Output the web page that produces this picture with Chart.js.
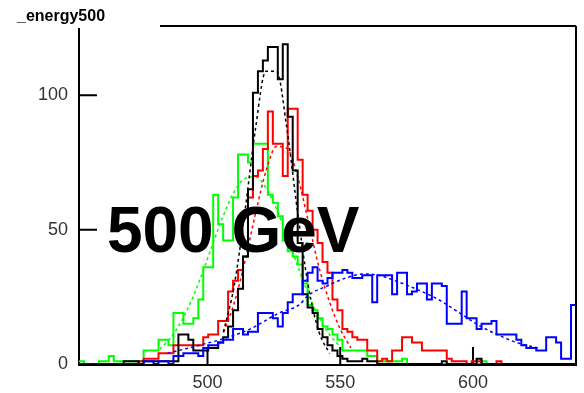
<!DOCTYPE html>
<html><head><meta charset="utf-8">
<script src="https://cdn.jsdelivr.net/npm/chart.js@4/dist/chart.umd.min.js"></script>
<style>html,body{margin:0;padding:0;background:#fff;overflow:hidden}#wrap{width:584px;height:393px;position:relative}</style>
</head><body><div id="wrap"><canvas id="c" width="584" height="393"></canvas></div>
<script>
// ---- axis ranges / ticks ----
const X_MIN = 451.6, X_MAX = 638.8, Y_MAX = 125.8;
const N_BINS = 100;
const xTicks = [500, 550, 600];
const yTicks = [0, 50, 100];
const titleText = "_energy500";
const labelText = "500 GeV";

// ---- histogram bin contents ----
const blackCounts = [
  0,0,0,0,0,0,0,0,0,1, 1,1,0,1,1,1,1,1,1,1,
  11,11,9,5,5,5,6,6,8,10, 14,20,28,40,65,101,109,113,118,118,
  106,119,92,72,45,26,21,19,13,10, 7,5,3,2,1,1,1,2,1,1,
  0,0,0,0,0,0,0,0,0,0, 0,0,0,1,0,0,0,0,0,0,
  2,0,0,0,0,0,0,0,0,0, 0,0,0,0,0,0,0,0,0,0
];
const redCounts = [
  0,0,0,0,0,0,0,0,0,0, 0,0,1,2,2,2,4,4,4,7,
  7,7,7,7,7,10,11,11,16,16, 27,31,35,40,62,70,72,80,94,82,
  82,70,95,95,76,63,57,50,45,38, 34,24,20,13,12,10,9,9,5,5,
  1,2,1,5,5,10,10,8,8,5, 5,5,5,5,2,1,1,1,0,1,
  1,0,0,0,1,0,0,0,0,0, 0,0,0,0,0,0,0,0,0,0
];
const greenCounts = [
  1,0,0,0,1,1,3,1,1,1, 1,1,1,5,5,5,9,9,7,19,
  19,15,15,17,24,36,36,63,52,46, 46,62,78,78,75,82,82,82,63,60,
  55,46,42,40,37,30,22,20,17,14, 13,11,9,5,5,5,5,5,3,3,
  1,1,1,1,1,2,0,0,0,0, 0,0,0,0,0,0,0,0,0,0,
  0,1,0,0,0,0,0,0,0,0, 0,0,0,0,0,0,0,0,0,0
];
const blueCounts = [
  0,0,0,0,0,0,0,0,0,0, 0,0,0,1,1,0,1,1,0,3,
  3,4,4,4,3,6,7,7,8,9, 9,13,13,11,12,12,19,19,19,17,
  14,19,23,26,26,31,34,36,31,30, 32,34,34,35,34,32,32,33,33,23,
  33,33,33,26,34,34,26,27,30,30, 24,30,30,29,15,15,15,27,17,17,
  13,15,15,16,11,11,11,11,9,7, 6,6,5,5,10,10,8,2,2,22
];

// ---- fitted curves ----
const greenFitX = [482,486,490,494,498,502,506,510,514,518,522,526,530,534,538,542,546,550];
const greenFitY = [5.5,9.6,15.6,23.7,33.7,44.7,55.3,64,69,69.7,65.6,57.7,47.4,36.4,26,17.4,10.9,6.4];
const redFitX = [506,510,514,518,522,526,530,534,538,542,546,550,554];
const redFitY = [11.7,22.5,37.8,55.6,71.7,81,80.2,69.6,53,36,23,13,6];
const blackFitX = [506,510,514,518,522,526,530,534,538,542,546];
const blackFitY = [11.9,28.8,56,87,109,109,87,56,28.8,11.9,3.9];
const blueFitX = [485,497,508,516,527,534.5,538,545,552,559,564.5,572,579.5,587,594.5,602,609.5,617,624.5];
const blueFitY = [4,7,10,13,19,22,25.6,29,32,33.5,33,30.5,27.5,24,19.3,14.5,10.8,7.8,6];

const binEdges = Array.from({length: N_BINS + 1}, (_, i) => X_MIN + i * (X_MAX - X_MIN) / N_BINS);
function histPoints(counts) {
  const pts = counts.map((v, i) => ({x: binEdges[i], y: v}));
  pts.push({x: binEdges[N_BINS], y: counts[N_BINS - 1]});
  return pts;
}
function curvePoints(xs, ys) { return xs.map((x, i) => ({x: x, y: ys[i]})); }

function hist(counts, color) {
  return {data: histPoints(counts), borderColor: color, borderWidth: 2, stepped: 'before',
          pointRadius: 0, fill: false, tension: 0};
}
function fit(xs, ys, color) {
  return {data: curvePoints(xs, ys), borderColor: color, borderWidth: 1.5, borderDash: [3, 3],
          pointRadius: 0, fill: false, tension: 0.4, cubicInterpolationMode: 'monotone'};
}

const FONT = "'Liberation Sans', Arial, Helvetica, sans-serif";

const framePlugin = {
  id: 'frame',
  beforeDatasetsDraw(chart) {
    const {ctx, chartArea: a, scales} = chart;
    ctx.save();
    ctx.strokeStyle = '#000';
    ctx.lineWidth = 2;
    ctx.beginPath();
    ctx.moveTo(a.left, a.top); ctx.lineTo(a.right, a.top);
    ctx.moveTo(a.right, a.top); ctx.lineTo(a.right, a.bottom + 1);
    ctx.moveTo(a.left - 1, a.bottom + 1); ctx.lineTo(a.right + 1, a.bottom + 1);
    ctx.moveTo(a.left, a.top); ctx.lineTo(a.left, a.bottom + 1);
    yTicks.forEach(v => { const p = scales.y.getPixelForValue(v); ctx.moveTo(a.left, p); ctx.lineTo(a.left + 18, p); });
    xTicks.forEach(v => { const p = scales.x.getPixelForValue(v); ctx.moveTo(p, a.bottom); ctx.lineTo(p, a.bottom - 17); });
    ctx.stroke();
    ctx.restore();
  },
  afterDraw(chart) {
    const {ctx, scales} = chart;
    ctx.save();
    // title box
    ctx.fillStyle = '#fff';
    ctx.fillRect(0, 0, 160, 28);
    ctx.fillStyle = '#000';
    ctx.font = 'bold 16px ' + FONT;
    ctx.textBaseline = 'alphabetic';
    ctx.fillText(titleText, 17, 21);
    // big label
    ctx.font = 'bold 64px ' + FONT;
    ctx.fillText(labelText, scales.x.getPixelForValue(462.1), scales.y.getPixelForValue(41.7));
    ctx.restore();
  }
};

new Chart(document.getElementById('c'), {
  type: 'line',
  data: {
    datasets: [
      hist(blueCounts, '#0000ff'),
      fit(blueFitX, blueFitY, '#0000ff'),
      hist(blackCounts, '#000000'),
      fit(blackFitX, blackFitY, '#000000'),
      hist(redCounts, '#ff0000'),
      fit(redFitX, redFitY, '#ff0000'),
      hist(greenCounts, '#00ff00'),
      fit(greenFitX, greenFitY, '#00ff00')
    ]
  },
  options: {
    responsive: false,
    animation: false,
    devicePixelRatio: 1,
    layout: {padding: {top: 26, right: 8, left: 0, bottom: 0}},
    plugins: {legend: {display: false}, tooltip: {enabled: false}, title: {display: false}},
    scales: {
      x: {
        type: 'linear', min: X_MIN, max: X_MAX,
        grid: {display: false, drawTicks: false}, border: {display: false},
        ticks: {font: {family: FONT, size: 18}, color: '#333', padding: 8, autoSkip: false, maxRotation: 0,
                callback: v => String(v)},
        afterBuildTicks: s => { s.ticks = xTicks.map(v => ({value: v})); },
        afterFit: s => { s.height = 29; }
      },
      y: {
        type: 'linear', min: 0, max: Y_MAX,
        grid: {display: false, drawTicks: false}, border: {display: false},
        ticks: {font: {family: FONT, size: 18}, color: '#333', padding: 11, autoSkip: false,
                callback: v => String(v)},
        afterBuildTicks: s => { s.ticks = yTicks.map(v => ({value: v})); },
        afterFit: s => { s.width = 79; }
      }
    }
  },
  plugins: [framePlugin]
});
</script></body></html>
